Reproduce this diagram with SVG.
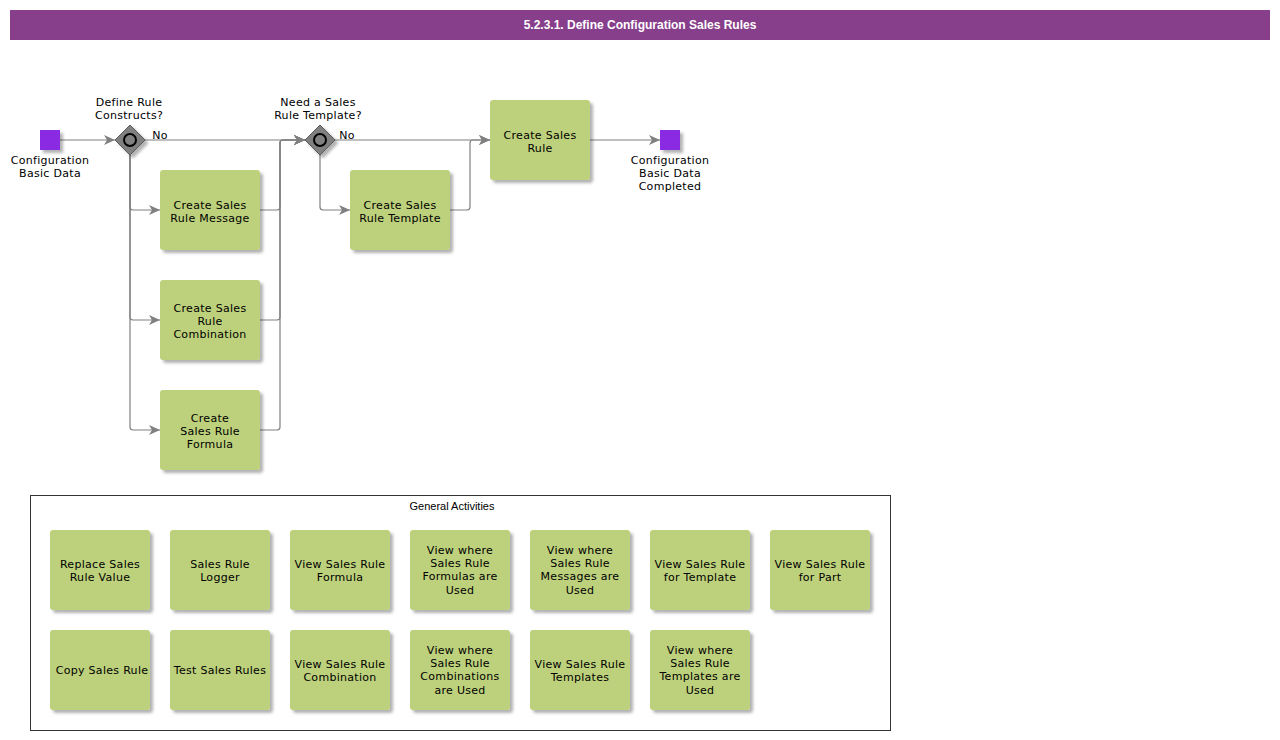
<svg xmlns="http://www.w3.org/2000/svg" width="1280" height="740" viewBox="0 0 1280 740">
<style>
.t{font-family:"DejaVu Sans",Verdana,sans-serif;font-size:11px;fill:#000;text-anchor:middle;letter-spacing:0.3px}
.task{fill:#bdd17c;filter:url(#sh)}
.ev{fill:#8a2be2;filter:url(#sh)}
.gw{fill:#808080;stroke:#5a5a5a;stroke-width:1;filter:url(#sh)}
.gc{fill:none;stroke:#000;stroke-width:2}
.c{fill:none;stroke:#808080;stroke-width:1.2}
.a{marker-end:url(#ar)}
</style>
<defs>
<filter id="sh" x="-20%" y="-20%" width="150%" height="150%">
<feDropShadow dx="3" dy="3" stdDeviation="1.5" flood-color="#000" flood-opacity="0.3"/>
</filter>
<marker id="ar" markerUnits="userSpaceOnUse" markerWidth="12" markerHeight="10" refX="11" refY="5" orient="auto">
<path d="M0,0 L11,5 L0,10 L3,5 Z" fill="#808080"/>
</marker>
</defs>
<rect width="1280" height="740" fill="#fff"/>
<g id="header">
<rect x="10" y="10" width="1260" height="30" fill="#873f8b"/>
<text x="640" y="29" font-family="Liberation Sans,Arial,sans-serif" font-size="12" font-weight="bold" fill="#fff" text-anchor="middle">5.2.3.1. Define Configuration Sales Rules</text>
</g>
<g id="connectors">
<path class="c a" d="M60,140 H115"/>
<path class="c a" d="M145,140 H305"/>
<path class="c a" d="M130,155 V207 Q130,210 133,210 H160"/>
<path class="c a" d="M130,155 V317 Q130,320 133,320 H160"/>
<path class="c a" d="M130,155 V427 Q130,430 133,430 H160"/>
<path class="c a" d="M260,210 H277 Q280,210 280,207 V143 Q280,140 283,140 H305"/>
<path class="c a" d="M260,320 H277 Q280,320 280,317 V143 Q280,140 283,140 H305"/>
<path class="c a" d="M260,430 H277 Q280,430 280,427 V143 Q280,140 283,140 H305"/>
<path class="c a" d="M335,140 H490"/>
<path class="c a" d="M320,155 V207 Q320,210 323,210 H350"/>
<path class="c a" d="M450,210 H467 Q470,210 470,207 V143 Q470,140 473,140 H490"/>
<path class="c a" d="M590,140 H660"/>
<text class="t" x="160" y="139">No</text>
<text class="t" x="347" y="139">No</text>
</g>
<g id="start">
<rect class="ev" x="40" y="130" width="20" height="20"/>
<text class="t" x="50" y="164">Configuration</text>
<text class="t" x="50" y="177">Basic Data</text>
</g>
<g id="gw1">
<path class="gw" d="M130,125 L145,140 L130,155 L115,140 Z"/>
<circle class="gc" cx="130" cy="140" r="6"/>
<text class="t" x="129" y="106">Define Rule</text>
<text class="t" x="129" y="119">Constructs?</text>
</g>
<g id="msg">
<rect class="task" x="160" y="170" width="100" height="80" rx="3"/>
<text class="t" x="210" y="209">Create Sales</text>
<text class="t" x="210" y="222">Rule Message</text>
</g>
<g id="comb">
<rect class="task" x="160" y="280" width="100" height="80" rx="3"/>
<text class="t" x="210" y="312">Create Sales</text>
<text class="t" x="210" y="325">Rule</text>
<text class="t" x="210" y="338">Combination</text>
</g>
<g id="form">
<rect class="task" x="160" y="390" width="100" height="80" rx="3"/>
<text class="t" x="210" y="422">Create</text>
<text class="t" x="210" y="435">Sales Rule</text>
<text class="t" x="210" y="448">Formula</text>
</g>
<g id="gw2">
<path class="gw" d="M320,125 L335,140 L320,155 L305,140 Z"/>
<circle class="gc" cx="320" cy="140" r="6"/>
<text class="t" x="318" y="106">Need a Sales</text>
<text class="t" x="318" y="119">Rule Template?</text>
</g>
<g id="tmpl">
<rect class="task" x="350" y="170" width="100" height="80" rx="3"/>
<text class="t" x="400" y="209">Create Sales</text>
<text class="t" x="400" y="222">Rule Template</text>
</g>
<g id="rule">
<rect class="task" x="490" y="100" width="100" height="80" rx="3"/>
<text class="t" x="540" y="139">Create Sales</text>
<text class="t" x="540" y="152">Rule</text>
</g>
<g id="end">
<rect class="ev" x="660" y="130" width="20" height="20"/>
<text class="t" x="670" y="164">Configuration</text>
<text class="t" x="670" y="177">Basic Data</text>
<text class="t" x="670" y="190">Completed</text>
</g>
<g id="general">
<rect x="30.5" y="495.5" width="860" height="235" fill="#fff" stroke="#333" stroke-width="1"/>
<text x="452" y="510" font-family="Liberation Sans,Arial,sans-serif" font-size="11" text-anchor="middle">General Activities</text>
</g>
<g id="g1"><rect class="task" x="50" y="530" width="100" height="80" rx="3"/><text class="t" x="100" y="568">Replace Sales</text><text class="t" x="100" y="581">Rule Value</text></g>
<g id="g2"><rect class="task" x="170" y="530" width="100" height="80" rx="3"/><text class="t" x="220" y="568">Sales Rule</text><text class="t" x="220" y="581">Logger</text></g>
<g id="g3"><rect class="task" x="290" y="530" width="100" height="80" rx="3"/><text class="t" x="340" y="568">View Sales Rule</text><text class="t" x="340" y="581">Formula</text></g>
<g id="g4"><rect class="task" x="410" y="530" width="100" height="80" rx="3"/><text class="t" x="460" y="554">View where</text><text class="t" x="460" y="567">Sales Rule</text><text class="t" x="460" y="580">Formulas are</text><text class="t" x="460" y="594">Used</text></g>
<g id="g5"><rect class="task" x="530" y="530" width="100" height="80" rx="3"/><text class="t" x="580" y="554">View where</text><text class="t" x="580" y="567">Sales Rule</text><text class="t" x="580" y="580">Messages are</text><text class="t" x="580" y="594">Used</text></g>
<g id="g6"><rect class="task" x="650" y="530" width="100" height="80" rx="3"/><text class="t" x="700" y="568">View Sales Rule</text><text class="t" x="700" y="581">for Template</text></g>
<g id="g7"><rect class="task" x="770" y="530" width="100" height="80" rx="3"/><text class="t" x="820" y="568">View Sales Rule</text><text class="t" x="820" y="581">for Part</text></g>
<g id="g8"><rect class="task" x="50" y="630" width="100" height="80" rx="3"/><text class="t" x="102" y="674">Copy Sales Rule</text></g>
<g id="g9"><rect class="task" x="170" y="630" width="100" height="80" rx="3"/><text class="t" x="220" y="674">Test Sales Rules</text></g>
<g id="g10"><rect class="task" x="290" y="630" width="100" height="80" rx="3"/><text class="t" x="340" y="668">View Sales Rule</text><text class="t" x="340" y="681">Combination</text></g>
<g id="g11"><rect class="task" x="410" y="630" width="100" height="80" rx="3"/><text class="t" x="460" y="654">View where</text><text class="t" x="460" y="667">Sales Rule</text><text class="t" x="460" y="680">Combinations</text><text class="t" x="460" y="694">are Used</text></g>
<g id="g12"><rect class="task" x="530" y="630" width="100" height="80" rx="3"/><text class="t" x="580" y="668">View Sales Rule</text><text class="t" x="580" y="681">Templates</text></g>
<g id="g13"><rect class="task" x="650" y="630" width="100" height="80" rx="3"/><text class="t" x="700" y="654">View where</text><text class="t" x="700" y="667">Sales Rule</text><text class="t" x="700" y="680">Templates are</text><text class="t" x="700" y="694">Used</text></g>
</svg>
